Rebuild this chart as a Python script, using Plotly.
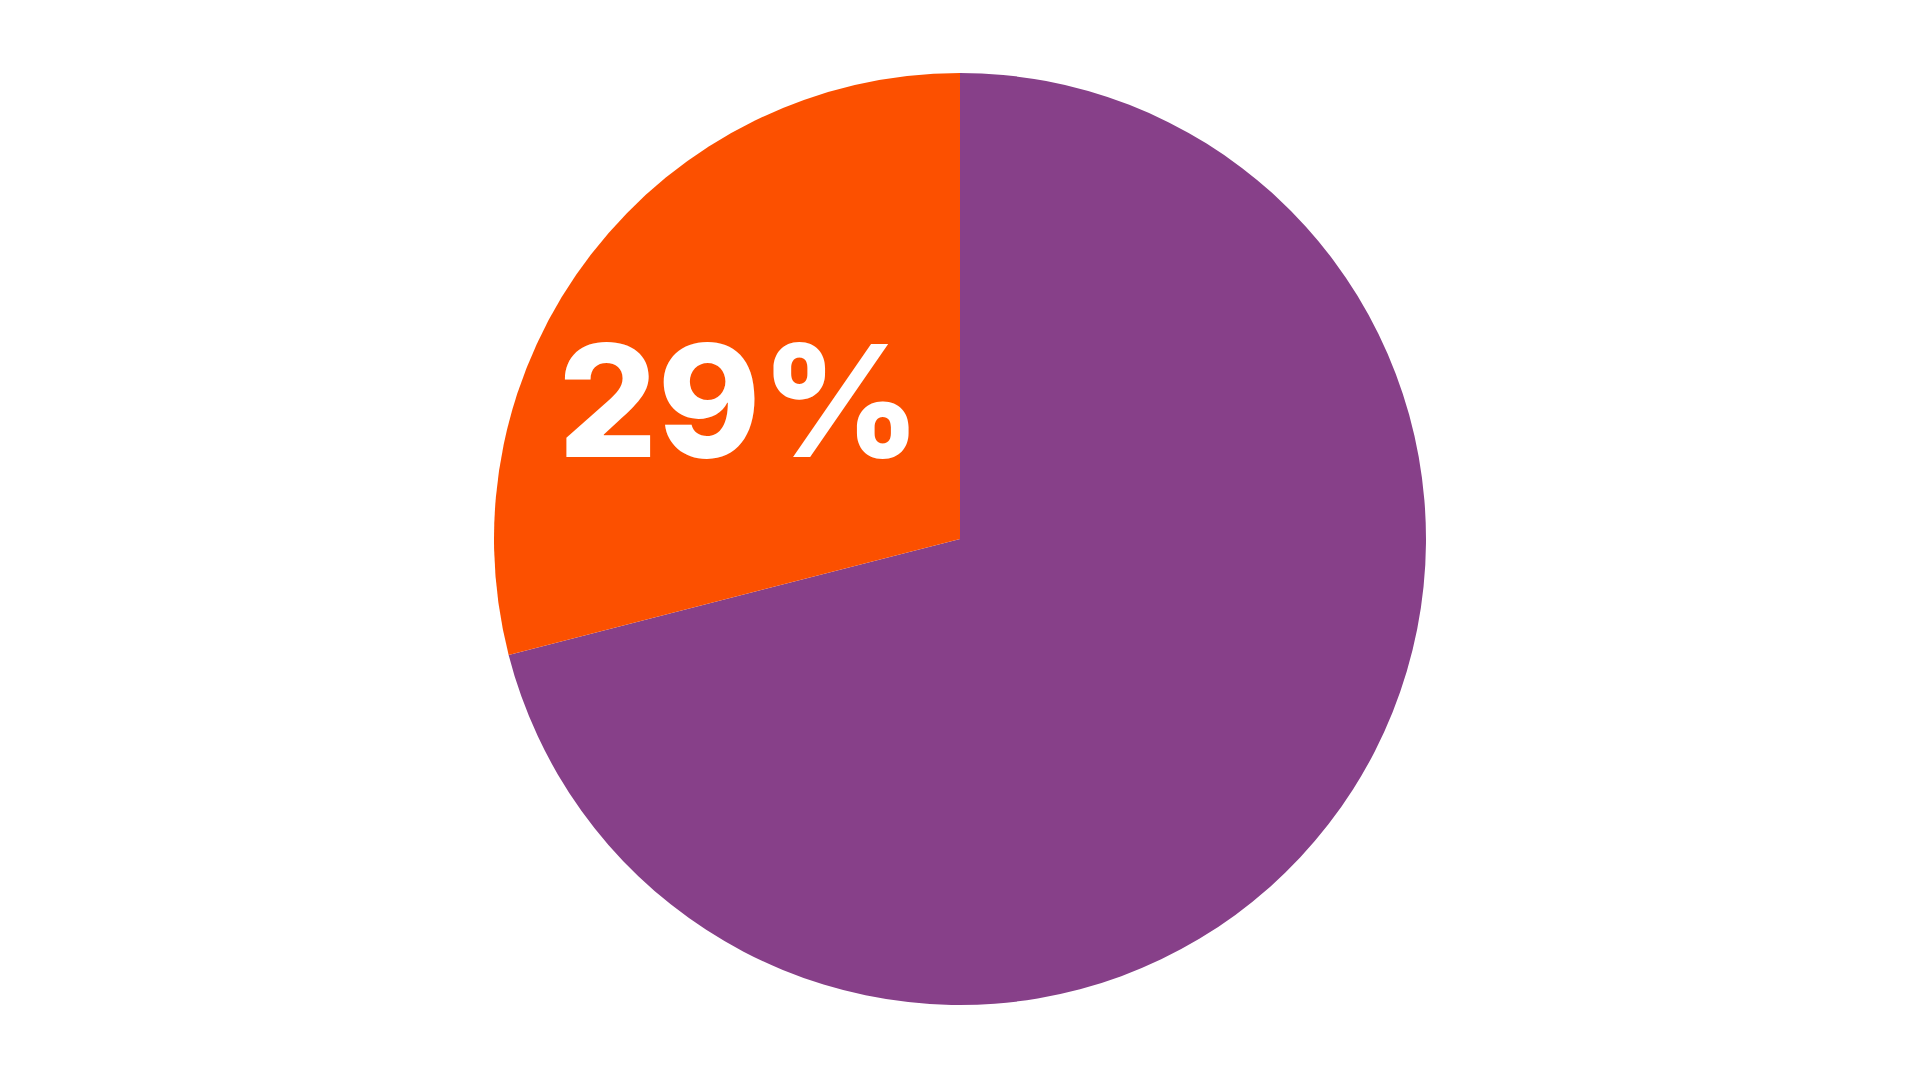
import plotly.graph_objects as go

labels = ["Other", "Share"]
values = [71, 29]
colors = ["#874089", "#FC5000"]

total = sum(values)
pct_text = f"{round(values[1] / total * 100)}%"

fig = go.Figure(go.Pie(
    labels=labels,
    values=values,
    sort=False,
    direction="clockwise",
    rotation=0,
    marker=dict(colors=colors, line=dict(width=0)),
    textinfo="none",
    hoverinfo="label+percent",
    showlegend=False,
))

fig.add_annotation(
    text=pct_text,
    x=731 / 1904, y=(932 - 327) / 932,
    xref="paper", yref="paper",
    xanchor="center", yanchor="middle",
    showarrow=False,
    font=dict(family="Inter", size=156, color="white", weight=800),
)

fig.update_layout(
    width=1920, height=1080,
    margin=dict(l=0, r=16, t=65, b=83),
    paper_bgcolor="white",
    plot_bgcolor="white",
)

fig.write_html("out.html")
